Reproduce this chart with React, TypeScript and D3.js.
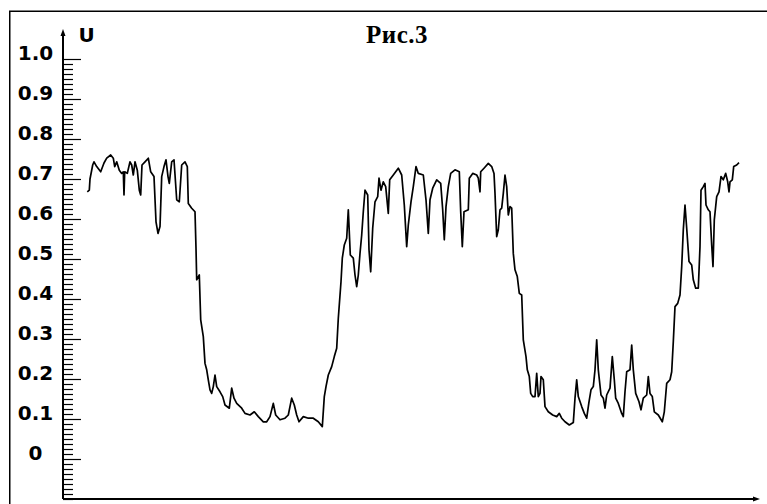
import React, { useEffect, useRef } from 'react';
import * as d3 from 'd3';

const W = 767;
const H = 504;

// trace: [t, U], t in arbitrary units along the x axis
const highA: [number, number][] = [
  [24.3, 0.668], [26.3, 0.672], [27, 0.70], [29.7, 0.735], [31, 0.743], [33.7, 0.731], [37.7, 0.718],
  [41, 0.74], [43.7, 0.752], [47.7, 0.76], [50.3, 0.752], [51.7, 0.731], [53.7, 0.743], [56.3, 0.722],
  [58.7, 0.714], [60.3, 0.718], [61, 0.66], [61.7, 0.718], [64.3, 0.714], [67, 0.743], [68.7, 0.735],
  [70.3, 0.71], [72, 0.743], [74.3, 0.722], [76.3, 0.672], [77.7, 0.66], [79, 0.735], [82, 0.743],
  [85.3, 0.752], [87.7, 0.718], [91, 0.706], [93, 0.593], [95, 0.564], [97, 0.581], [98.7, 0.706],
  [101, 0.731], [103, 0.748], [105, 0.706], [106.3, 0.689], [108.7, 0.743], [111, 0.748], [113.7, 0.648],
  [116.3, 0.643], [118.7, 0.735], [122, 0.743], [124.3, 0.731], [125.3, 0.639], [128.7, 0.627], [132, 0.618],
];
const dropA: [number, number][] = [
  [133, 0.527], [133.7, 0.448], [136.3, 0.46], [137.7, 0.348], [140.3, 0.306], [142, 0.239], [143.7, 0.223],
  [145.3, 0.198], [147, 0.173], [148.7, 0.164], [150.3, 0.181], [152, 0.21], [153.7, 0.181], [157, 0.168],
  [159.7, 0.156], [162, 0.135], [166.3, 0.127], [168.7, 0.177], [171, 0.152], [173.7, 0.139], [178.7, 0.127],
];
const lowA: [number, number][] = [
  [182, 0.114], [187, 0.11], [191.3, 0.118], [195.3, 0.106], [200.3, 0.093], [203.7, 0.093], [207, 0.106],
  [210.3, 0.139], [212.7, 0.11], [217, 0.098], [222, 0.102], [225.3, 0.11], [228.7, 0.152], [231.3, 0.135],
  [233.7, 0.11], [236, 0.093], [240.3, 0.106], [245.3, 0.102], [250.3, 0.102], [255.3, 0.093], [259.3, 0.081],
];
const riseA: [number, number][] = [
  [261.3, 0.156], [263, 0.181], [265.3, 0.21], [268.7, 0.231], [271.3, 0.256], [273.7, 0.277], [275.3, 0.352],
  [278, 0.443], [279.3, 0.502], [281.3, 0.535], [283.7, 0.552], [285.3, 0.623], [287.3, 0.51], [290.3, 0.502],
  [292, 0.46], [293.7, 0.431], [295.3, 0.46], [297, 0.514], [298.7, 0.56], [300.3, 0.618], [302, 0.672],
  [304.7, 0.66], [306, 0.523], [307.7, 0.468], [309.7, 0.577], [312, 0.643], [314.7, 0.656],
];
const highB: [number, number][] = [
  [316, 0.702], [318, 0.672], [320.3, 0.693], [322.7, 0.681], [325.3, 0.614], [326.7, 0.698], [330.3, 0.71],
  [335.3, 0.727], [338.7, 0.71], [341.3, 0.635], [343.7, 0.531], [345.3, 0.585], [348, 0.643], [350.3, 0.681],
  [353, 0.731], [355.3, 0.714], [360.3, 0.71], [363, 0.648], [365.3, 0.564], [367, 0.648], [369.7, 0.677],
  [373.7, 0.698], [377.7, 0.689], [379.7, 0.623], [381.3, 0.548], [383, 0.631], [385.3, 0.681], [387.7, 0.714],
  [392, 0.723], [396.3, 0.718], [397.7, 0.618], [399.3, 0.531], [401, 0.618], [405.3, 0.623], [406.3, 0.702],
  [409.7, 0.714], [413.7, 0.71], [415.3, 0.702], [417, 0.668], [417.7, 0.718], [421, 0.727], [425.3, 0.739],
  [428.7, 0.731], [431, 0.714], [432, 0.664], [433.7, 0.556], [435.3, 0.573], [437, 0.623], [438.7, 0.627],
  [440.3, 0.664], [442, 0.71], [443.7, 0.681], [445.3, 0.61], [447, 0.631], [448.7, 0.627],
];
const dropB: [number, number][] = [
  [450.3, 0.514], [452, 0.473], [454.3, 0.456], [456.3, 0.414], [458.7, 0.41], [460.3, 0.298], [463, 0.256],
  [464.3, 0.223], [466.3, 0.206], [467.7, 0.164], [469.7, 0.156], [472, 0.156], [473.7, 0.214], [475.3, 0.156],
  [477, 0.164], [478, 0.206], [480.3, 0.198], [482, 0.131], [485.3, 0.118],
];
const lowB: [number, number][] = [
  [489.7, 0.11], [493.7, 0.106], [496.3, 0.114], [498.7, 0.102], [502, 0.093], [506.3, 0.085], [510.3, 0.091],
  [512, 0.152], [513.7, 0.198], [515.3, 0.156], [518.7, 0.131], [521.3, 0.114], [523.7, 0.102], [526, 0.143],
  [528, 0.173], [530.3, 0.181], [532, 0.223], [533.7, 0.298], [535.3, 0.223], [538, 0.16], [540.3, 0.152],
  [542, 0.127], [543.7, 0.16], [547, 0.177], [549.3, 0.256], [551.3, 0.198], [552.7, 0.152], [555.3, 0.139],
  [558.7, 0.114], [560.3, 0.106], [562, 0.168], [563.7, 0.218], [567, 0.223], [568.7, 0.285], [570.3, 0.223],
  [572.7, 0.164], [576, 0.143], [578, 0.123], [580.3, 0.152], [583.7, 0.16], [585.3, 0.206], [587, 0.164],
  [589.3, 0.156], [591.3, 0.118], [595.3, 0.11], [599.3, 0.093], [601.3, 0.118], [603.7, 0.189], [607, 0.198],
  [608.7, 0.218],
];
const riseB: [number, number][] = [
  [610.3, 0.293], [612, 0.381], [614.7, 0.389], [617, 0.41], [618.7, 0.481], [620.3, 0.573], [622, 0.635],
  [623.7, 0.577], [626, 0.494], [628.7, 0.485], [630.3, 0.448], [632.7, 0.427], [635.3, 0.427], [637, 0.531],
  [638, 0.672], [640.3, 0.681], [642, 0.689], [643, 0.635], [645.3, 0.623], [647, 0.618], [648.7, 0.535],
  [650, 0.481], [651.3, 0.598], [653.7, 0.656], [656, 0.668], [658, 0.706], [660.3, 0.698], [662.7, 0.714],
  [664.7, 0.693], [666, 0.668], [667, 0.693], [669.3, 0.698], [670.7, 0.731], [673.7, 0.735], [676, 0.741],
];

const majorTicks = [0, 0.1, 0.2, 0.3, 0.4, 0.5, 0.6, 0.7, 0.8, 0.9, 1.0];
const tickLabels = ['0', '0.1', '0.2', '0.3', '0.4', '0.5', '0.6', '0.7', '0.8', '0.9', '1.0'];
const title = 'Рис.3';
const yName = 'U';

const App = () => {
  const axisRef = useRef<SVGGElement>(null);

  const x = d3.scaleLinear().domain([0, 690]).range([63, 753]);
  const y = d3.scaleLinear().domain([-0.1, 1.0]).range([499, 59]);

  const series = [...highA, ...dropA, ...lowA, ...riseA, ...highB, ...dropB, ...lowB, ...riseB];
  const line = d3.line<[number, number]>().x(d => x(d[0])).y(d => y(d[1]));

  useEffect(() => {
    if (!axisRef.current) return;
    const g = d3.select(axisRef.current);
    g.selectAll('*').remove();

    // minor ticks every 0.0125 from -0.1 up to 1.0
    const minor = d3.range(-8, 81).filter(i => i < 0 || i % 8 !== 0).map(i => i * 0.0125);

    g.append('g')
      .attr('transform', `translate(${x(0)},0)`)
      .call(d3.axisRight(y).tickValues(minor).tickSize(10).tickFormat(() => ''))
      .call(s => s.select('.domain').remove());
    g.append('g')
      .attr('transform', `translate(${x(0)},0)`)
      .call(d3.axisRight(y).tickValues(majorTicks).tickSize(18).tickFormat(() => ''))
      .call(s => s.select('.domain').remove());
    g.selectAll('line').attr('stroke', '#000').attr('stroke-width', 1.2);
  }, []);

  const x0 = x(0);
  const yBase = y(-0.1);
  const yTop = y(1.075);
  const xEnd = x(697);

  return (
    <svg width={W} height={H} style={{ position: 'absolute', left: 0, top: 0, background: '#fff' }}>
      <rect x={0} y={0} width={W} height={H} fill="#fff" />
      {/* frame, cut off at right and bottom */}
      <path d={`M9.75,${H + 5}V11.25H${W + 5}`} fill="none" stroke="#000" strokeWidth={1.5} />

      <text x={397} y={43} textAnchor="middle" fontFamily="'Liberation Serif', serif"
        fontWeight="bold" fontSize={25} letterSpacing={0.5}>{title}</text>

      {/* y axis */}
      <line x1={x0} x2={x0} y1={yBase} y2={yTop + 4} stroke="#000" strokeWidth={2} />
      <path d={`M${x0},${yTop}L${x0 - 2.5},${yTop + 7}L${x0 + 2.5},${yTop + 7}Z`} fill="#000" />
      <g ref={axisRef} />
      <text x={78.5} y={42} fontFamily="'DejaVu Sans', sans-serif" fontWeight="bold" fontSize={20}>{yName}</text>
      {majorTicks.map((v, i) => (
        <text key={v} x={35.5} y={y(v) + 1} textAnchor="middle"
          fontFamily="'DejaVu Sans', sans-serif" fontWeight="bold" fontSize={20}>{tickLabels[i]}</text>
      ))}

      {/* x axis */}
      <line x1={x0} x2={xEnd - 4} y1={yBase} y2={yBase} stroke="#000" strokeWidth={2} />
      <path d={`M${xEnd},${yBase}L${xEnd - 7},${yBase - 2.5}L${xEnd - 7},${yBase + 2.5}Z`} fill="#000" />

      <path d={line(series) || ''} fill="none" stroke="#000" strokeWidth={1.7} strokeLinejoin="round" />
    </svg>
  );
};

export default App;
